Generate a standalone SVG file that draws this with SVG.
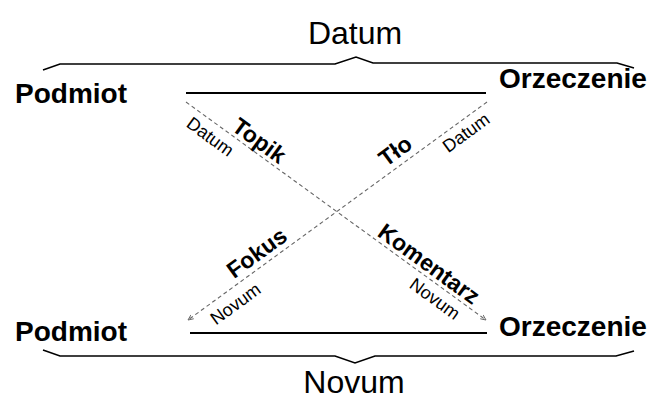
<svg xmlns="http://www.w3.org/2000/svg" width="654" height="399" viewBox="0 0 654 399">
<style>
.big{font-family:"Liberation Sans",Arial,sans-serif;font-size:32px;fill:#000;text-anchor:middle}
.node{font-family:"Liberation Sans",Arial,sans-serif;font-size:28px;font-weight:bold;fill:#000}
.lbl{font-family:"Liberation Sans",Arial,sans-serif;font-size:23px;font-weight:bold;fill:#000;text-anchor:middle}
.sm{font-family:"Liberation Sans",Arial,sans-serif;font-size:18px;fill:#000;text-anchor:middle}
.solid{stroke:#000;stroke-width:2;fill:none}
.brace{stroke:#000;stroke-width:1.6;fill:none;stroke-linejoin:miter}
.dash{stroke:#666;stroke-width:1.1;stroke-dasharray:4 3;fill:none}
</style>
<defs>
<marker id="ah" viewBox="0 0 10 10" refX="9" refY="5" markerWidth="6" markerHeight="6" orient="auto" markerUnits="userSpaceOnUse">
<path d="M0,1 L9,5 L0,9" fill="none" stroke="#666" stroke-width="1.5"/>
</marker>
</defs>
<rect width="654" height="399" fill="#fff"/>
<g id="datum-title"><text class="big" x="355" y="44">Datum</text></g>
<g id="novum-title"><text class="big" x="354" y="393">Novum</text></g>
<g id="podmiot-top"><text class="node" x="15" y="103">Podmiot</text></g>
<g id="orzeczenie-top"><text class="node" x="499" y="88">Orzeczenie</text></g>
<g id="podmiot-bottom"><text class="node" x="15" y="341">Podmiot</text></g>
<g id="orzeczenie-bottom"><text class="node" x="499" y="336">Orzeczenie</text></g>
<g id="connectors">
<path class="brace" d="M43,70 L60,64 L335,64 L356,57 L373,63 L617,63 L634,68"/>
<path class="brace" d="M43,350 L60,356 L335,356 L355,363 L375,356 L616,356 L634,351"/>
<line class="solid" x1="186" y1="93" x2="486" y2="93"/>
<line class="solid" x1="190" y1="333" x2="487" y2="333"/>
<line class="dash" x1="186" y1="102" x2="486" y2="320" marker-end="url(#ah)"/>
<line class="dash" x1="487" y1="102" x2="188" y2="320" marker-end="url(#ah)"/>
</g>
<g id="labels">
<text class="sm" transform="translate(218.4,125.5) rotate(36)" x="0" y="20">Datum</text>
<text class="lbl" transform="translate(252.3,150.2) rotate(36)" x="0" y="-4">Topik</text>
<text class="lbl" transform="translate(422,273.5) rotate(36)" x="0" y="-4">Komentarz</text>
<text class="sm" transform="translate(442.5,288.4) rotate(36)" x="0" y="19">Novum</text>
<text class="lbl" transform="translate(264.9,264.1) rotate(-36)" x="0" y="-6">Fokus</text>
<text class="sm" transform="translate(226.8,291.8) rotate(-36)" x="0" y="21">Novum</text>
<text class="lbl" transform="translate(404,163) rotate(-36)" x="0" y="-7">Tło</text>
<text class="sm" transform="translate(459,123) rotate(-36)" x="0" y="18">Datum</text>
</g>
</svg>
